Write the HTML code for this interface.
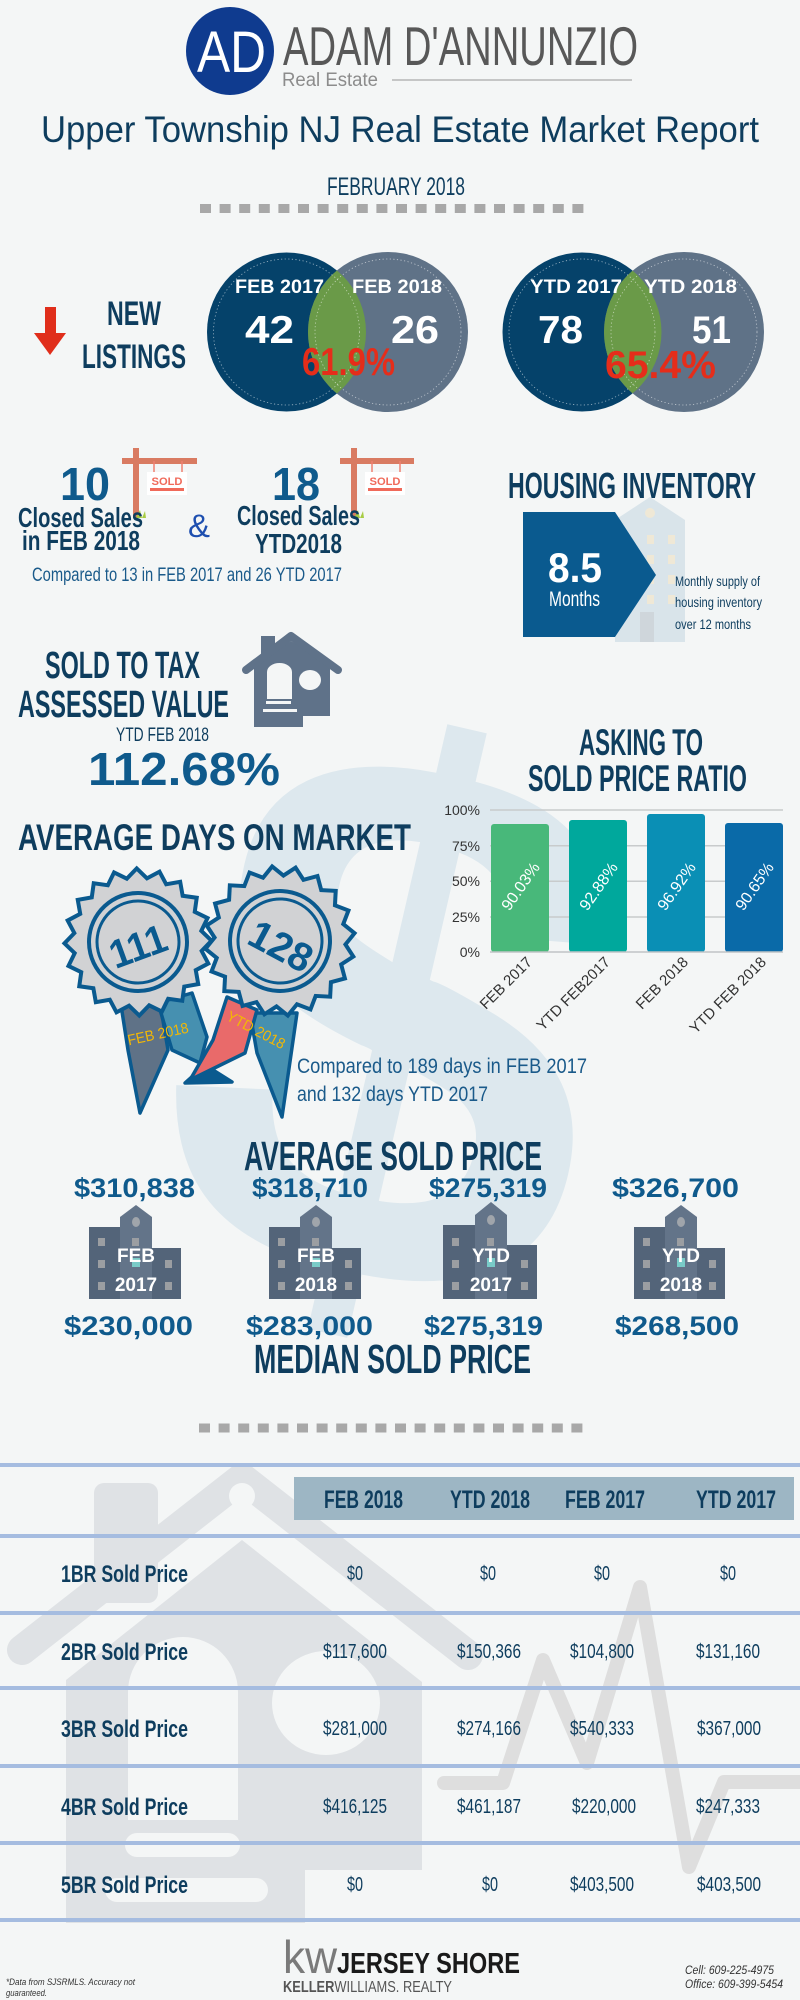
<!DOCTYPE html>
<html><head><meta charset="utf-8"><style>
html,body{margin:0;padding:0;background:#f4f6f6;}
svg{display:block;}
text{font-family:"Liberation Sans",sans-serif;}
</style></head><body>
<svg width="800" height="2000" viewBox="0 0 800 2000" xmlns="http://www.w3.org/2000/svg">
<rect width="800" height="2000" fill="#f4f6f6"/>
<defs>
<clipPath id="ca"><circle cx="286.5" cy="332" r="79.5"/></clipPath>
<clipPath id="cb"><circle cx="582" cy="332" r="79.5"/></clipPath>
</defs>

<!-- big $ watermark -->
<text x="0" y="274" font-size="760" font-weight="bold" text-anchor="middle" fill="#dde8ee" transform="translate(400,1011) rotate(13)">$</text>

<!-- logo -->
<circle cx="230" cy="51" r="44" fill="#0f3b8f"/>
<text x="197" y="72" font-size="58" fill="#ffffff" textLength="69" lengthAdjust="spacingAndGlyphs">AD</text>
<text x="283" y="65" font-size="55" fill="#585858" textLength="355" lengthAdjust="spacingAndGlyphs">ADAM D'ANNUNZIO</text>
<text x="282" y="86" font-size="19" fill="#8c8c8c" textLength="96" lengthAdjust="spacingAndGlyphs">Real Estate</text>
<line x1="392" y1="80" x2="632" y2="80" stroke="#b5b5b5" stroke-width="1.5"/>

<!-- title -->
<text x="41" y="142" font-size="37" fill="#0e3d5e" textLength="718" lengthAdjust="spacingAndGlyphs">Upper Township NJ Real Estate Market Report</text>
<text x="327" y="195" font-size="25" fill="#0e3d5e" textLength="138" lengthAdjust="spacingAndGlyphs">FEBRUARY 2018</text>
<line x1="200" y1="208.5" x2="584" y2="208.5" stroke="#a8a8a8" stroke-width="9" stroke-dasharray="11 8.6"/>

<!-- venn left -->
<circle cx="286.5" cy="332" r="79.5" fill="#05426a"/>
<circle cx="388" cy="332" r="80" fill="#5f7287"/>
<circle cx="388" cy="332" r="80" fill="#6a9a48" clip-path="url(#ca)"/>
<circle cx="286.5" cy="332" r="73" fill="none" stroke="#ffffff" stroke-opacity="0.6" stroke-width="0.8" stroke-dasharray="1.2 2.4"/>
<circle cx="388" cy="332" r="73" fill="none" stroke="#ffffff" stroke-opacity="0.6" stroke-width="0.8" stroke-dasharray="1.2 2.4"/>
<!-- venn right -->
<circle cx="582" cy="332" r="79.5" fill="#05426a"/>
<circle cx="684" cy="332" r="80" fill="#5f7287"/>
<circle cx="684" cy="332" r="80" fill="#6a9a48" clip-path="url(#cb)"/>
<circle cx="582" cy="332" r="73" fill="none" stroke="#ffffff" stroke-opacity="0.6" stroke-width="0.8" stroke-dasharray="1.2 2.4"/>
<circle cx="684" cy="332" r="73" fill="none" stroke="#ffffff" stroke-opacity="0.6" stroke-width="0.8" stroke-dasharray="1.2 2.4"/>

<g fill="#ffffff" font-weight="bold">
<text x="235" y="293" font-size="19" textLength="89" lengthAdjust="spacingAndGlyphs">FEB 2017</text>
<text x="352" y="293" font-size="19" textLength="90" lengthAdjust="spacingAndGlyphs">FEB 2018</text>
<text x="245" y="343" font-size="39" textLength="49" lengthAdjust="spacingAndGlyphs">42</text>
<text x="391" y="343" font-size="39" textLength="48" lengthAdjust="spacingAndGlyphs">26</text>
<text x="530" y="293" font-size="19" textLength="92" lengthAdjust="spacingAndGlyphs">YTD 2017</text>
<text x="644" y="293" font-size="19" textLength="93" lengthAdjust="spacingAndGlyphs">YTD 2018</text>
<text x="538" y="343" font-size="39" textLength="45" lengthAdjust="spacingAndGlyphs">78</text>
<text x="692" y="343" font-size="39" textLength="39" lengthAdjust="spacingAndGlyphs">51</text>
</g>
<text x="302" y="375" font-size="39" font-weight="bold" fill="#e52d1a" textLength="93" lengthAdjust="spacingAndGlyphs">61.9%</text>
<text x="605" y="378" font-size="39" font-weight="bold" fill="#e52d1a" textLength="111" lengthAdjust="spacingAndGlyphs">65.4%</text>

<!-- arrow + new listings -->
<rect x="45" y="307" width="11" height="28" fill="#e02e1b"/>
<polygon points="34,333 66,333 50,355" fill="#e02e1b"/>
<text x="107" y="325" font-size="34" font-weight="bold" fill="#0e3d5e" textLength="54" lengthAdjust="spacingAndGlyphs">NEW</text>
<text x="82" y="368" font-size="34" font-weight="bold" fill="#0e3d5e" textLength="104" lengthAdjust="spacingAndGlyphs">LISTINGS</text>

<!-- sold signs -->
<g>
<rect x="133" y="448" width="6" height="70" fill="#d97b62"/>
<rect x="122" y="458" width="75" height="6" fill="#d97b62"/>
<line x1="154" y1="461" x2="154" y2="474" stroke="#f08070" stroke-width="1.5"/>
<line x1="182" y1="461" x2="182" y2="474" stroke="#f08070" stroke-width="1.5"/>
<rect x="147" y="472" width="40" height="23" fill="#ffffff"/>
<text x="167" y="485" font-size="11" font-weight="bold" fill="#f06a5a" text-anchor="middle" textLength="31" lengthAdjust="spacingAndGlyphs">SOLD</text>
<rect x="150" y="488" width="34" height="3" fill="#f06a5a"/>
<polygon points="136,518 140,510 142,518 145,511 146,518" fill="#a8cc44"/>
</g>
<g>
<rect x="351" y="448" width="6" height="70" fill="#d97b62"/>
<rect x="340" y="458" width="74" height="6" fill="#d97b62"/>
<line x1="372" y1="461" x2="372" y2="474" stroke="#f08070" stroke-width="1.5"/>
<line x1="400" y1="461" x2="400" y2="474" stroke="#f08070" stroke-width="1.5"/>
<rect x="365" y="472" width="40" height="23" fill="#ffffff"/>
<text x="385" y="485" font-size="11" font-weight="bold" fill="#f06a5a" text-anchor="middle" textLength="31" lengthAdjust="spacingAndGlyphs">SOLD</text>
<rect x="368" y="488" width="34" height="3" fill="#f06a5a"/>
<polygon points="354,518 358,510 360,518 363,511 364,518" fill="#a8cc44"/>
</g>
<text x="60" y="500" font-size="46" font-weight="bold" fill="#0f5a8c" textLength="50" lengthAdjust="spacingAndGlyphs">10</text>
<text x="272" y="500" font-size="46" font-weight="bold" fill="#0f5a8c" textLength="48" lengthAdjust="spacingAndGlyphs">18</text>
<g fill="#0e3d5e" font-size="28" font-weight="bold">
<text x="18" y="527" textLength="125" lengthAdjust="spacingAndGlyphs">Closed Sales</text>
<text x="22" y="550" textLength="118" lengthAdjust="spacingAndGlyphs">in FEB 2018</text>
<text x="237" y="525" textLength="123" lengthAdjust="spacingAndGlyphs">Closed Sales</text>
<text x="255" y="553" textLength="87" lengthAdjust="spacingAndGlyphs">YTD2018</text>
</g>
<text x="188" y="537" font-size="32" fill="#1e4fb0" textLength="22" lengthAdjust="spacingAndGlyphs">&amp;</text>
<text x="32" y="581" font-size="19" fill="#1a5a8a" textLength="310" lengthAdjust="spacingAndGlyphs">Compared to 13 in FEB 2017 and 26 YTD 2017</text>

<!-- housing inventory -->
<text x="508" y="498" font-size="36" font-weight="bold" fill="#0e3d5e" textLength="248" lengthAdjust="spacingAndGlyphs">HOUSING INVENTORY</text>
<polygon points="615,520 650,497 685,520 685,642 615,642" fill="#d9e4ea"/>
<circle cx="650" cy="513" r="5" fill="#efe8d6"/>
<g fill="#efe8d6">
<rect x="647" y="535" width="7" height="9"/><rect x="668" y="535" width="7" height="9"/>
<rect x="647" y="555" width="7" height="9"/><rect x="668" y="555" width="7" height="9"/>
<rect x="647" y="575" width="7" height="9"/><rect x="668" y="575" width="7" height="9"/>
<rect x="647" y="595" width="7" height="9"/><rect x="668" y="595" width="7" height="9"/>
</g>
<rect x="640" y="612" width="14" height="30" fill="#cfd6db"/>
<polygon points="523,512 615,512 656,575 615,637 523,637" fill="#0a5a8f"/>
<text x="548" y="582" font-size="42" font-weight="bold" fill="#ffffff" textLength="54" lengthAdjust="spacingAndGlyphs">8.5</text>
<text x="549" y="606" font-size="21" fill="#ffffff" textLength="51" lengthAdjust="spacingAndGlyphs">Months</text>
<g fill="#0e3d5e" font-size="14">
<text x="675" y="586" textLength="85" lengthAdjust="spacingAndGlyphs">Monthly supply of</text>
<text x="675" y="607" textLength="87" lengthAdjust="spacingAndGlyphs">housing inventory</text>
<text x="675" y="629" textLength="76" lengthAdjust="spacingAndGlyphs">over 12 months</text>
</g>

<!-- sold to tax -->
<text x="45" y="678" font-size="38" font-weight="bold" fill="#0e3d5e" textLength="155" lengthAdjust="spacingAndGlyphs">SOLD TO TAX</text>
<text x="18" y="717" font-size="38" font-weight="bold" fill="#0e3d5e" textLength="211" lengthAdjust="spacingAndGlyphs">ASSESSED VALUE</text>
<g>
<rect x="261" y="636" width="14" height="22" fill="#5f7289"/>
<path d="M254,664 L291,641 L330,664 L330,716 L303,716 L303,727 L254,727 Z" fill="#5f7289"/>
<polyline points="246,670 291,636 338,670" fill="none" stroke="#5f7289" stroke-width="8" stroke-linecap="round" stroke-linejoin="round"/>
<path d="M267,699 L267,672 A12.5,9 0 0 1 292,672 L292,699 Z" fill="#f4f6f6"/>
<ellipse cx="310" cy="680" rx="11" ry="10" fill="#f4f6f6"/>
<rect x="266" y="701" width="25" height="3" fill="#f4f6f6"/>
<rect x="263" y="709" width="34" height="3" fill="#f4f6f6"/>
</g>
<text x="116" y="741" font-size="19" fill="#0e3d5e" textLength="93" lengthAdjust="spacingAndGlyphs">YTD FEB 2018</text>
<text x="88" y="785" font-size="46" font-weight="bold" fill="#0f5a8c" textLength="192" lengthAdjust="spacingAndGlyphs">112.68%</text>

<!-- asking to sold -->
<text x="579" y="755" font-size="37" font-weight="bold" fill="#0e3d5e" textLength="124" lengthAdjust="spacingAndGlyphs">ASKING TO</text>
<text x="528" y="791" font-size="37" font-weight="bold" fill="#0e3d5e" textLength="219" lengthAdjust="spacingAndGlyphs">SOLD PRICE RATIO</text>

<!-- chart -->
<g stroke="#c8cbcc" stroke-width="1.5">
<line x1="490" y1="810" x2="783" y2="810"/>
<line x1="490" y1="845.7" x2="783" y2="845.7"/>
<line x1="490" y1="881.3" x2="783" y2="881.3"/>
<line x1="490" y1="917" x2="783" y2="917"/>
</g>
<g fill="#333333" font-size="14" text-anchor="end">
<text x="480" y="815">100%</text>
<text x="480" y="851">75%</text>
<text x="480" y="886">50%</text>
<text x="480" y="922">25%</text>
<text x="480" y="957">0%</text>
</g>
<rect x="491" y="824" width="58" height="128" rx="3" fill="#48b87a"/>
<rect x="569" y="820" width="58" height="132" rx="3" fill="#00a89c"/>
<rect x="647" y="814" width="58" height="138" rx="3" fill="#0a8fb5"/>
<rect x="725" y="823" width="58" height="129" rx="3" fill="#0a6aa8"/>
<line x1="490" y1="952" x2="783" y2="952" stroke="#c0c4c6" stroke-width="1.5"/>
<g fill="#ffffff" font-size="16" text-anchor="middle">
<text x="0" y="6" transform="translate(520,886) rotate(-55)">90.03%</text>
<text x="0" y="6" transform="translate(598,886) rotate(-55)">92.88%</text>
<text x="0" y="6" transform="translate(676,886) rotate(-55)">96.92%</text>
<text x="0" y="6" transform="translate(754,886) rotate(-55)">90.65%</text>
</g>
<g fill="#333333" font-size="15" text-anchor="end">
<text x="0" y="0" transform="translate(533,963) rotate(-45)">FEB 2017</text>
<text x="0" y="0" transform="translate(611,963) rotate(-45)">YTD FEB2017</text>
<text x="0" y="0" transform="translate(689,963) rotate(-45)">FEB 2018</text>
<text x="0" y="0" transform="translate(767,963) rotate(-45)">YTD FEB 2018</text>
</g>

<!-- average days on market -->
<text x="18" y="850" font-size="37" font-weight="bold" fill="#0e3d5e" textLength="393" lengthAdjust="spacingAndGlyphs">AVERAGE DAYS ON MARKET</text>

<!-- ribbons -->
<g stroke="#0a5a8f" stroke-width="3.5" stroke-linejoin="round">
<polygon points="121,1005 160,1003 168,1050 140,1113 128,1050" fill="#5f7287"/>
<polygon points="158,1003 192,993 207,1037 200,1063 172,1050" fill="#4690b0"/>
<polygon points="205,1065 232,1082 185,1083" fill="#0a5a8f"/>
<polygon points="250,1013 297,1013 282,1117 257,1053" fill="#4690b0"/>
<polygon points="227,997 257,1010 245,1053 190,1080 213,1040" fill="#e96a6a"/>
</g>

<!-- medal 1 -->
<g transform="translate(138,942) rotate(8)">
<g fill="#0a5a8f" stroke="#0a5a8f" stroke-width="8">
<rect x="-50" y="-50" width="100" height="100"/>
<rect x="-50" y="-50" width="100" height="100" transform="rotate(18)"/>
<rect x="-50" y="-50" width="100" height="100" transform="rotate(36)"/>
<rect x="-50" y="-50" width="100" height="100" transform="rotate(54)"/>
<rect x="-50" y="-50" width="100" height="100" transform="rotate(72)"/>
</g>
<g fill="#d1d2d4">
<rect x="-50" y="-50" width="100" height="100"/>
<rect x="-50" y="-50" width="100" height="100" transform="rotate(18)"/>
<rect x="-50" y="-50" width="100" height="100" transform="rotate(36)"/>
<rect x="-50" y="-50" width="100" height="100" transform="rotate(54)"/>
<rect x="-50" y="-50" width="100" height="100" transform="rotate(72)"/>
</g>
<circle r="49" fill="none" stroke="#0a5a8f" stroke-width="4"/>
<circle r="41" fill="none" stroke="#0a5a8f" stroke-width="3"/>
</g>
<!-- medal 2 -->
<g transform="translate(280,941) rotate(3)">
<g fill="#0a5a8f" stroke="#0a5a8f" stroke-width="8">
<rect x="-51" y="-51" width="102" height="102"/>
<rect x="-51" y="-51" width="102" height="102" transform="rotate(18)"/>
<rect x="-51" y="-51" width="102" height="102" transform="rotate(36)"/>
<rect x="-51" y="-51" width="102" height="102" transform="rotate(54)"/>
<rect x="-51" y="-51" width="102" height="102" transform="rotate(72)"/>
</g>
<g fill="#d1d2d4">
<rect x="-51" y="-51" width="102" height="102"/>
<rect x="-51" y="-51" width="102" height="102" transform="rotate(18)"/>
<rect x="-51" y="-51" width="102" height="102" transform="rotate(36)"/>
<rect x="-51" y="-51" width="102" height="102" transform="rotate(54)"/>
<rect x="-51" y="-51" width="102" height="102" transform="rotate(72)"/>
</g>
<circle r="50" fill="none" stroke="#0a5a8f" stroke-width="4"/>
<circle r="42" fill="none" stroke="#0a5a8f" stroke-width="3"/>
</g>
<text x="0" y="14" font-size="40" font-weight="bold" fill="#0a5a8f" text-anchor="middle" textLength="58" lengthAdjust="spacingAndGlyphs" transform="translate(138,946) rotate(-20)">111</text>
<text x="0" y="14" font-size="40" font-weight="bold" fill="#0a5a8f" text-anchor="middle" textLength="66" lengthAdjust="spacingAndGlyphs" transform="translate(281,946) rotate(28)">128</text>
<text x="0" y="5" font-size="15" fill="#f2b705" text-anchor="middle" textLength="62" lengthAdjust="spacingAndGlyphs" transform="translate(158,1034) rotate(-12)">FEB 2018</text>
<text x="0" y="5" font-size="15" fill="#f2b705" text-anchor="middle" textLength="64" lengthAdjust="spacingAndGlyphs" transform="translate(256,1030) rotate(28)">YTD 2018</text>

<text x="297" y="1073" font-size="21" fill="#1a5a8a" textLength="290" lengthAdjust="spacingAndGlyphs">Compared to 189 days in FEB 2017</text>
<text x="297" y="1101" font-size="21" fill="#1a5a8a" textLength="191" lengthAdjust="spacingAndGlyphs">and 132 days YTD 2017</text>

<!-- average sold price -->
<text x="244" y="1170" font-size="41" font-weight="bold" fill="#0e3d5e" textLength="298" lengthAdjust="spacingAndGlyphs">AVERAGE SOLD PRICE</text>
<g font-size="27" font-weight="bold" fill="#0f5a8c">
<text x="74" y="1197" textLength="121" lengthAdjust="spacingAndGlyphs">$310,838</text>
<text x="252" y="1197" textLength="116" lengthAdjust="spacingAndGlyphs">$318,710</text>
<text x="429" y="1197" textLength="118" lengthAdjust="spacingAndGlyphs">$275,319</text>
<text x="612" y="1197" textLength="127" lengthAdjust="spacingAndGlyphs">$326,700</text>
<text x="64" y="1335" textLength="129" lengthAdjust="spacingAndGlyphs">$230,000</text>
<text x="246" y="1335" textLength="127" lengthAdjust="spacingAndGlyphs">$283,000</text>
<text x="424" y="1335" textLength="119" lengthAdjust="spacingAndGlyphs">$275,319</text>
<text x="615" y="1335" textLength="124" lengthAdjust="spacingAndGlyphs">$268,500</text>
</g>

<!-- buildings -->
<g transform="translate(89,0)">
<rect x="0" y="1227" width="32" height="72" fill="#536479"/>
<rect x="60" y="1248" width="32" height="51" fill="#536479"/>
<polygon points="31,1217 47,1205 63,1217 63,1299 31,1299" fill="#637489"/>
<ellipse cx="47" cy="1222" rx="4" ry="5" fill="#a0a5ab"/>
<g fill="#9b9ea2"><rect x="9" y="1238" width="7" height="8"/><rect x="9" y="1260" width="7" height="8"/><rect x="9" y="1282" width="7" height="8"/><rect x="43" y="1238" width="7" height="8"/><rect x="76" y="1260" width="7" height="8"/><rect x="76" y="1282" width="7" height="8"/></g>
<rect x="43" y="1258" width="8" height="9" fill="#79cbc8"/>
<text x="47" y="1262" font-size="19" font-weight="bold" fill="#ffffff" text-anchor="middle">FEB</text>
<text x="47" y="1291" font-size="19" font-weight="bold" fill="#ffffff" text-anchor="middle">2017</text>
</g>
<g transform="translate(269,0)">
<rect x="0" y="1227" width="32" height="72" fill="#536479"/>
<rect x="60" y="1248" width="32" height="51" fill="#536479"/>
<polygon points="31,1217 47,1205 63,1217 63,1299 31,1299" fill="#637489"/>
<ellipse cx="47" cy="1222" rx="4" ry="5" fill="#a0a5ab"/>
<g fill="#9b9ea2"><rect x="9" y="1238" width="7" height="8"/><rect x="9" y="1260" width="7" height="8"/><rect x="9" y="1282" width="7" height="8"/><rect x="43" y="1238" width="7" height="8"/><rect x="76" y="1260" width="7" height="8"/><rect x="76" y="1282" width="7" height="8"/></g>
<rect x="43" y="1258" width="8" height="9" fill="#79cbc8"/>
<text x="47" y="1262" font-size="19" font-weight="bold" fill="#ffffff" text-anchor="middle">FEB</text>
<text x="47" y="1291" font-size="19" font-weight="bold" fill="#ffffff" text-anchor="middle">2018</text>
</g>
<g transform="translate(443,0)">
<rect x="0" y="1225" width="32" height="74" fill="#536479"/>
<rect x="62" y="1245" width="32" height="54" fill="#536479"/>
<polygon points="32,1215 48,1202 64,1215 64,1299 32,1299" fill="#637489"/>
<ellipse cx="48" cy="1220" rx="4" ry="5" fill="#a0a5ab"/>
<g fill="#9b9ea2"><rect x="9" y="1238" width="7" height="8"/><rect x="9" y="1260" width="7" height="8"/><rect x="9" y="1282" width="7" height="8"/><rect x="44" y="1238" width="7" height="8"/><rect x="78" y="1260" width="7" height="8"/><rect x="78" y="1282" width="7" height="8"/></g>
<rect x="44" y="1258" width="8" height="9" fill="#79cbc8"/>
<text x="48" y="1262" font-size="19" font-weight="bold" fill="#ffffff" text-anchor="middle">YTD</text>
<text x="48" y="1291" font-size="19" font-weight="bold" fill="#ffffff" text-anchor="middle">2017</text>
</g>
<g transform="translate(634,0)">
<rect x="0" y="1227" width="32" height="72" fill="#536479"/>
<rect x="60" y="1248" width="31" height="51" fill="#536479"/>
<polygon points="31,1217 47,1205 63,1217 63,1299 31,1299" fill="#637489"/>
<ellipse cx="47" cy="1222" rx="4" ry="5" fill="#a0a5ab"/>
<g fill="#9b9ea2"><rect x="9" y="1238" width="7" height="8"/><rect x="9" y="1260" width="7" height="8"/><rect x="9" y="1282" width="7" height="8"/><rect x="43" y="1238" width="7" height="8"/><rect x="75" y="1260" width="7" height="8"/><rect x="75" y="1282" width="7" height="8"/></g>
<rect x="43" y="1258" width="8" height="9" fill="#79cbc8"/>
<text x="47" y="1262" font-size="19" font-weight="bold" fill="#ffffff" text-anchor="middle">YTD</text>
<text x="47" y="1291" font-size="19" font-weight="bold" fill="#ffffff" text-anchor="middle">2018</text>
</g>

<text x="254" y="1373" font-size="41" font-weight="bold" fill="#0e3d5e" textLength="277" lengthAdjust="spacingAndGlyphs">MEDIAN SOLD PRICE</text>

<line x1="199" y1="1428" x2="583" y2="1428" stroke="#a8a8a8" stroke-width="9" stroke-dasharray="11 8.6"/>

<!-- table watermark house -->
<g fill="#dfe2e5">
<rect x="94" y="1483" width="64" height="120" rx="10"/>
<path d="M66,1680 L242,1540 L422,1682 L422,1870 L305,1870 L305,1923 L66,1923 Z"/>
</g>
<polyline points="22,1650 242,1478 468,1655" fill="none" stroke="#dfe2e5" stroke-width="30" stroke-linecap="round" stroke-linejoin="round"/>
<circle cx="242" cy="1496" r="13" fill="#f4f6f6"/>
<g fill="#f4f6f6">
<path d="M128,1820 L128,1692 A55,55 0 0 1 238,1692 L238,1820 Z"/>
<ellipse cx="326" cy="1703" rx="54" ry="52"/>
<rect x="125" y="1833" width="115" height="24" rx="12"/>
<rect x="105" y="1878" width="163" height="24" rx="12"/>
</g>
<polyline points="444,1783 503,1783 543,1660 587,1763 640,1587 689,1867 724,1782 800,1782" fill="none" stroke="#dedede" stroke-width="14" stroke-linecap="round" stroke-linejoin="round"/>

<!-- table lines -->
<g fill="#a5bce0">
<rect x="0" y="1463" width="800" height="4"/>
<rect x="0" y="1534" width="800" height="4"/>
<rect x="0" y="1611" width="800" height="4"/>
<rect x="0" y="1686" width="800" height="4"/>
<rect x="0" y="1764" width="800" height="4"/>
<rect x="0" y="1841" width="800" height="4"/>
<rect x="0" y="1918" width="800" height="4"/>
</g>
<rect x="294" y="1477" width="500" height="43" fill="#9db6c4"/>
<g fill="#0e3d5e" font-size="25" font-weight="bold">
<text x="324" y="1508" textLength="79" lengthAdjust="spacingAndGlyphs">FEB 2018</text>
<text x="450" y="1508" textLength="80" lengthAdjust="spacingAndGlyphs">YTD 2018</text>
<text x="565" y="1508" textLength="80" lengthAdjust="spacingAndGlyphs">FEB 2017</text>
<text x="696" y="1508" textLength="80" lengthAdjust="spacingAndGlyphs">YTD 2017</text>
</g>
<g fill="#0e3d5e" font-size="24" font-weight="bold">
<text x="61" y="1582" textLength="127" lengthAdjust="spacingAndGlyphs">1BR Sold Price</text>
<text x="61" y="1660" textLength="127" lengthAdjust="spacingAndGlyphs">2BR Sold Price</text>
<text x="61" y="1737" textLength="127" lengthAdjust="spacingAndGlyphs">3BR Sold Price</text>
<text x="61" y="1815" textLength="127" lengthAdjust="spacingAndGlyphs">4BR Sold Price</text>
<text x="61" y="1893" textLength="127" lengthAdjust="spacingAndGlyphs">5BR Sold Price</text>
</g>
<g fill="#0e3d5e" font-size="20" text-anchor="middle">
<text x="355" y="1580" textLength="16" lengthAdjust="spacingAndGlyphs">$0</text>
<text x="488" y="1580" textLength="16" lengthAdjust="spacingAndGlyphs">$0</text>
<text x="602" y="1580" textLength="16" lengthAdjust="spacingAndGlyphs">$0</text>
<text x="728" y="1580" textLength="16" lengthAdjust="spacingAndGlyphs">$0</text>
<text x="355" y="1658" textLength="64" lengthAdjust="spacingAndGlyphs">$117,600</text>
<text x="489" y="1658" textLength="64" lengthAdjust="spacingAndGlyphs">$150,366</text>
<text x="602" y="1658" textLength="64" lengthAdjust="spacingAndGlyphs">$104,800</text>
<text x="728" y="1658" textLength="64" lengthAdjust="spacingAndGlyphs">$131,160</text>
<text x="355" y="1735" textLength="64" lengthAdjust="spacingAndGlyphs">$281,000</text>
<text x="489" y="1735" textLength="64" lengthAdjust="spacingAndGlyphs">$274,166</text>
<text x="602" y="1735" textLength="64" lengthAdjust="spacingAndGlyphs">$540,333</text>
<text x="729" y="1735" textLength="64" lengthAdjust="spacingAndGlyphs">$367,000</text>
<text x="355" y="1813" textLength="64" lengthAdjust="spacingAndGlyphs">$416,125</text>
<text x="489" y="1813" textLength="64" lengthAdjust="spacingAndGlyphs">$461,187</text>
<text x="604" y="1813" textLength="64" lengthAdjust="spacingAndGlyphs">$220,000</text>
<text x="728" y="1813" textLength="64" lengthAdjust="spacingAndGlyphs">$247,333</text>
<text x="355" y="1891" textLength="16" lengthAdjust="spacingAndGlyphs">$0</text>
<text x="490" y="1891" textLength="16" lengthAdjust="spacingAndGlyphs">$0</text>
<text x="602" y="1891" textLength="64" lengthAdjust="spacingAndGlyphs">$403,500</text>
<text x="729" y="1891" textLength="64" lengthAdjust="spacingAndGlyphs">$403,500</text>
</g>

<!-- footer -->
<text x="283" y="1973" font-size="46" fill="#7a7a7a" textLength="54" lengthAdjust="spacingAndGlyphs">kw</text>
<text x="337" y="1973" font-size="29" font-weight="bold" fill="#1a1a1a" textLength="183" lengthAdjust="spacingAndGlyphs">JERSEY SHORE</text>
<text x="283" y="1992" font-size="16" fill="#555555" textLength="169" lengthAdjust="spacingAndGlyphs"><tspan font-weight="bold">KELLER</tspan>WILLIAMS. REALTY</text>
<text x="6" y="1985" font-size="9" font-style="italic" fill="#333333" textLength="129" lengthAdjust="spacingAndGlyphs">*Data from SJSRMLS.  Accuracy not</text>
<text x="6" y="1996" font-size="9" font-style="italic" fill="#333333" textLength="41" lengthAdjust="spacingAndGlyphs">guaranteed.</text>
<text x="685" y="1974" font-size="12" font-style="italic" fill="#333333" textLength="89" lengthAdjust="spacingAndGlyphs">Cell: 609-225-4975</text>
<text x="685" y="1988" font-size="12" font-style="italic" fill="#333333" textLength="98" lengthAdjust="spacingAndGlyphs">Office: 609-399-5454</text>
</svg>
</body></html>
